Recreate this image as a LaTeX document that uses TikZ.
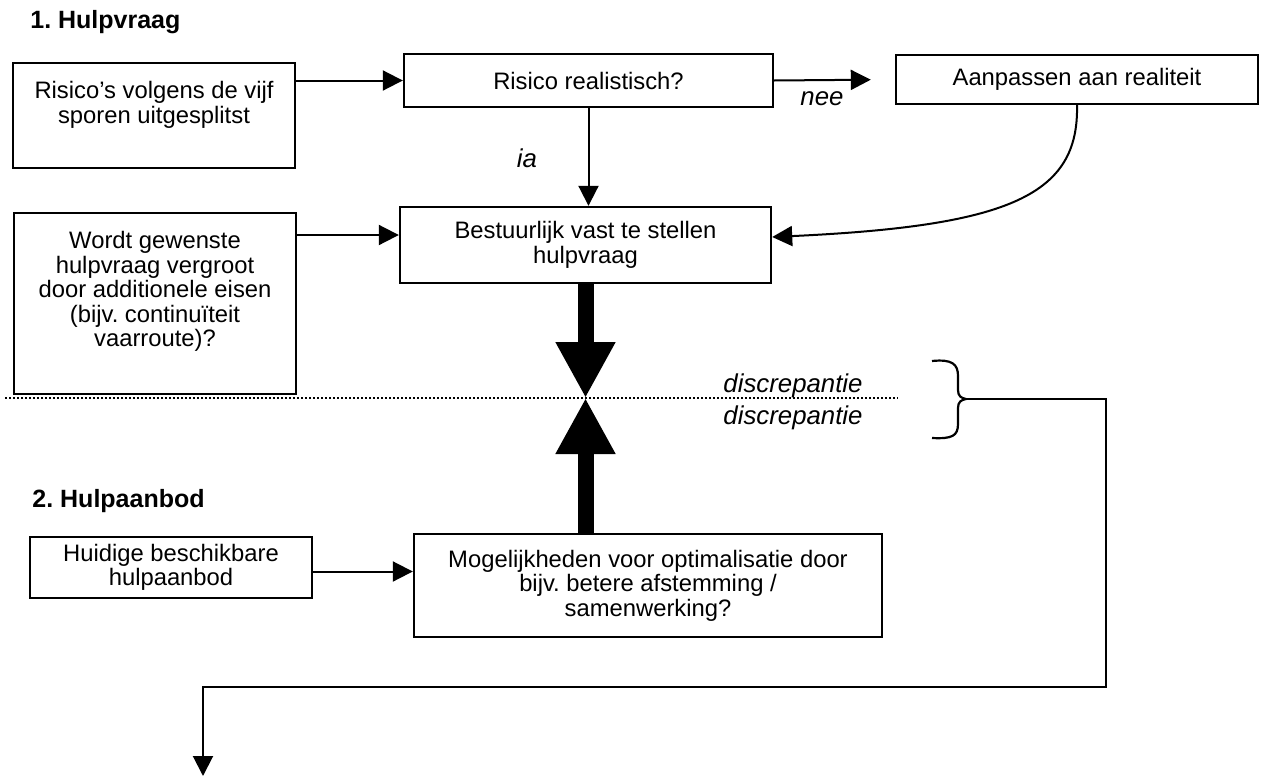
\documentclass[tikz,border=0pt]{standalone}
\usepackage{fontspec}
\setmainfont{Liberation Sans}
\usetikzlibrary{arrows.meta, calc, positioning}
\frenchspacing

\begin{document}
\begin{tikzpicture}[x=0.5pt, y=-0.5pt,
  box/.style={draw, line width=1.2pt, inner sep=0pt, align=center,
    font=\fontsize{11.9}{12.3}\selectfont},
  txt/.style={align=center, inner sep=0pt, font=\fontsize{11.9}{12.3}\selectfont},
  cond/.style={inner sep=0pt, font=\fontsize{12.9}{14}\selectfont\itshape},
  head/.style={inner sep=0pt, font=\fontsize{12.5}{14}\selectfont\bfseries},
  arr/.style={line width=1pt, -{Triangle[length=10pt, width=10pt]}},
  fat/.style={line width=8pt, -{Triangle[length=28pt, width=28pt]}}]
\useasboundingbox (0,0) rectangle (1268,776);

% headings
\node[head, anchor=base west] (kop1) at (30,28) {1. Hulpvraag};
\node[head, anchor=base west] (kop2) at (32,507) {2. Hulpaanbod};

% boxes of the hulpvraag
\node[box, minimum width=141pt, minimum height=52.5pt] (risico) at (154,115.5) {};
\node[txt, anchor=north] (risicoT) at ([yshift=-9.5pt]risico.north) {Risico’s volgens de vijf\\sporen uitgesplitst};
\node[box, minimum width=184.5pt, minimum height=26.5pt] (real) at (588.5,80.5) {Risico realistisch?};
\node[box, minimum width=181pt, minimum height=24.5pt] (aanpas) at (1077,79.5) {Aanpassen aan realiteit};
\node[box, minimum width=141pt, minimum height=90.5pt] (eisen) at (155,303.5) {};
\node[txt, anchor=north] (eisenT) at ([yshift=-9.5pt]eisen.north) {Wordt gewenste\\hulpvraag vergroot\\door additionele eisen\\(bijv. continuïteit\\vaarroute)?};
\node[box, minimum width=185.5pt, minimum height=38pt] (vraag) at (585.5,245) {Bestuurlijk vast te stellen\\hulpvraag};

% boxes of the hulpaanbod
\node[box, minimum width=141pt, minimum height=30.5pt] (huidig) at (171,567.5) {Huidige beschikbare\\hulpaanbod};
\node[box, minimum width=234pt, minimum height=51.5pt] (optim) at (648,585.5) {Mogelijkheden voor optimalisatie door\\bijv. betere afstemming /\\samenwerking?};

% connectors
\draw[arr] (risico.east |- real.west) -- (real.west);
\draw[arr, shorten >=12pt] (real.east) -- (aanpas.west);
\node[cond] (nee) at (822,99) {nee};
\draw[arr] (real.south) -- (real.south |- vraag.north);
\node[cond] (ia) at (527,158) {ia};
\coordinate (vraagIn) at ([yshift=5pt]vraag.west);
\draw[arr] (eisen.east |- vraagIn) -- (vraagIn);
\coordinate (vraagR) at ([yshift=4pt]vraag.east);
\draw[arr] (aanpas.south) .. controls (1079,195) and (1010,226) .. (vraagR);
\coordinate (optimIn) at ([yshift=-2pt]huidig.east -| optim.west);
\draw[arr] (huidig.east |- optimIn) -- (optimIn);

% discrepantie
\coordinate (dl) at (5,398);
\coordinate (dr) at (898,398);
\coordinate (gap) at (vraag.south |- dl);
\draw[line width=0.6pt, dash pattern=on 1pt off 1pt] (dl) -- (dr);
\draw[fat] (vraag.south) -- (gap);
\draw[fat] (optim.north -| gap) -- (gap);
\node[cond] (disc1) at (793,386) {discrepantie};
\node[cond] (disc2) at (793,418) {discrepantie};

% brace and the line out of it
\coordinate (tip) at (966,399);
\coordinate (out) at (203,776);
\draw[line width=1.1pt] (932,361) .. controls (952,359) and (958,364) .. (958,376) -- (958,390)
  .. controls (958,396) and (961,398) .. (tip) .. controls (961,400) and (958,402) .. (958,408)
  -- (958,424) .. controls (958,436) and (952,439) .. (932,438);
\draw[arr] (tip) -| (1106,687) -| (out);
\end{tikzpicture}
\end{document}
